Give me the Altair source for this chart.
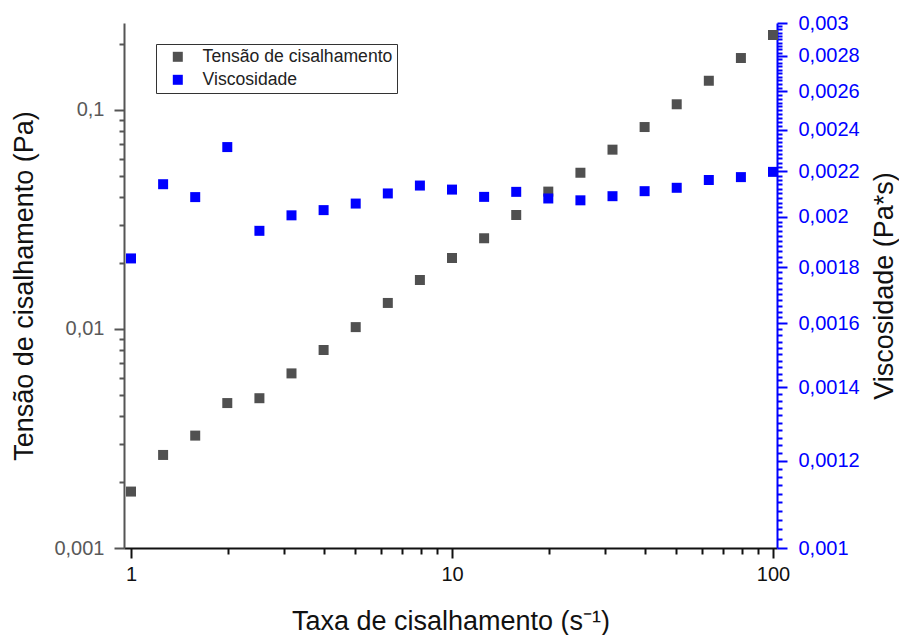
import altair as alt
import pandas as pd

# Shear rate (s^-1), logarithmically spaced
taxa = [1.0, 1.259, 1.585, 1.995, 2.512, 3.162, 3.981, 5.012, 6.310, 7.943,
        10.0, 12.59, 15.85, 19.95, 25.12, 31.62, 39.81, 50.12, 63.10, 79.43, 100.0]

# Shear stress (Pa)
tensao = [0.00181, 0.00266, 0.00326, 0.00459, 0.00483, 0.00627, 0.00802, 0.0102,
          0.01315, 0.01674, 0.0211, 0.02596, 0.03316, 0.0424, 0.0517, 0.0659,
          0.0836, 0.1062, 0.136, 0.1727, 0.2200]

# Viscosity (Pa*s)
viscosidade = [0.001833, 0.002141, 0.002084, 0.002314, 0.001942, 0.002006, 0.002028,
               0.002056, 0.002100, 0.002135, 0.002117, 0.002085, 0.002107, 0.002078,
               0.002070, 0.002088, 0.002110, 0.002125, 0.002160, 0.002173, 0.002197]

series = ["Tensão de cisalhamento", "Viscosidade"]
cores = ["#505050", "#0000ff"]

# Axis tick positions (major ticks carry labels, the rest are minor ticks)
x_ticks = [1, 2, 3, 4, 5, 6, 7, 8, 9, 10, 20, 30, 40, 50, 60, 70, 80, 90, 100]
x_major = [1, 10, 100]
y_left_ticks = [round(m * d, 6) for d in (0.001, 0.01) for m in range(1, 10)] + [0.1, 0.2]
y_left_major = [0.001, 0.01, 0.1]
y_right_ticks = [round(0.001 + i * 0.00002, 6) for i in range(101)]

FONT = "Liberation Sans"

df_t = pd.DataFrame({"taxa": taxa, "valor": tensao, "serie": series[0]})
df_v = pd.DataFrame({"taxa": taxa, "valor": viscosidade, "serie": series[1]})


def comma(expr):
    return "replace(toString(" + expr + "), '.', ',')"


x_enc = alt.X(
    "taxa:Q",
    scale=alt.Scale(type="log", domain=[0.951, 102.9], nice=False),
    axis=alt.Axis(
        title="Taxa de cisalhamento (s⁻¹)",
        values=x_ticks,
        labelExpr="indexof(" + str(x_major) + ", datum.value) >= 0 ? " + comma("datum.value") + " : ''",
        tickSize={"condition": {"test": "indexof(" + str(x_major) + ", datum.value) >= 0", "value": 10}, "value": 6},
        tickWidth=2, domainWidth=2, domainColor="#111111", tickColor="#111111",
        labelColor="#111111", labelFontSize=20, labelFont=FONT, labelPadding=6,
        labelFlush=False, labelOverlap=False,
        titleFont=FONT, titleFontSize=27, titleFontWeight="normal", titleColor="#111111",
        titlePadding=24, grid=False,
    ),
)

color_enc = alt.Color(
    "serie:N",
    scale=alt.Scale(domain=series, range=cores),
    legend=alt.Legend(
        title=None, orient="none", legendX=32, legendY=21,
        strokeColor="#333333", padding=4, symbolType="square", symbolSize=100,
        symbolOffset=9, labelOffset=16, labelFont=FONT, labelFontSize=17.6,
        labelColor="#222222", rowPadding=4, symbolStrokeWidth=0, labelLimit=0,
    ),
)

tensao_layer = alt.Chart(df_t).mark_square(size=100, opacity=1).encode(
    x=x_enc,
    y=alt.Y(
        "valor:Q",
        scale=alt.Scale(type="log", domain=[0.001, 0.2496], nice=False),
        axis=alt.Axis(
            orient="left",
            title="Tensão de cisalhamento (Pa)",
            values=y_left_ticks,
            labelExpr="indexof(" + str(y_left_major) + ", datum.value) >= 0 ? " + comma("datum.value") + " : ''",
            tickSize={"condition": {"test": "indexof(" + str(y_left_major) + ", datum.value) >= 0", "value": 10}, "value": 5},
            tickWidth=2, domainWidth=2, domainColor="#555555", tickColor="#555555",
            labelColor="#595959", labelFontSize=20, labelFont=FONT, labelPadding=10,
            labelFlush=False, labelOverlap=False,
            titleFont=FONT, titleFontSize=27, titleFontWeight="normal", titleColor="#111111",
            titlePadding=15, grid=False,
        ),
    ),
    color=color_enc,
)

viscosidade_layer = alt.Chart(df_v).mark_square(size=100, opacity=1).encode(
    x=x_enc,
    y=alt.Y(
        "valor:Q",
        scale=alt.Scale(type="log", domain=[0.001, 0.003], nice=False),
        axis=alt.Axis(
            orient="right",
            title="Viscosidade (Pa*s)",
            values=y_right_ticks,
            labelExpr="abs(datum.value * 5000 - round(datum.value * 5000)) < 1e-6 ? " + comma("datum.value") + " : ''",
            tickSize={"condition": {"test": "abs(datum.value * 5000 - round(datum.value * 5000)) < 1e-6", "value": 10}, "value": 5},
            tickWidth=2, domainWidth=2, domainColor="#0000ff", tickColor="#0000ff",
            labelColor="#0000ff", labelFontSize=20, labelFont=FONT, labelPadding=11,
            labelFlush=False, labelOverlap=False,
            titleFont=FONT, titleFontSize=27, titleFontWeight="normal", titleColor="#111111",
            titleAngle=270, titleBaseline="top", titlePadding=12, grid=False,
        ),
    ),
    color=color_enc,
)

chart = (
    alt.layer(tensao_layer, viscosidade_layer)
    .resolve_scale(y="independent")
    .properties(
        width=653,
        height=525,
        autosize=alt.AutoSizeParams(type="none"),
        padding={"left": 124, "top": 23, "right": 122, "bottom": 87},
        background="white",
    )
    .configure_view(strokeOpacity=0)
)

chart.save("out.html", embed_options={"renderer": "svg", "actions": False})
